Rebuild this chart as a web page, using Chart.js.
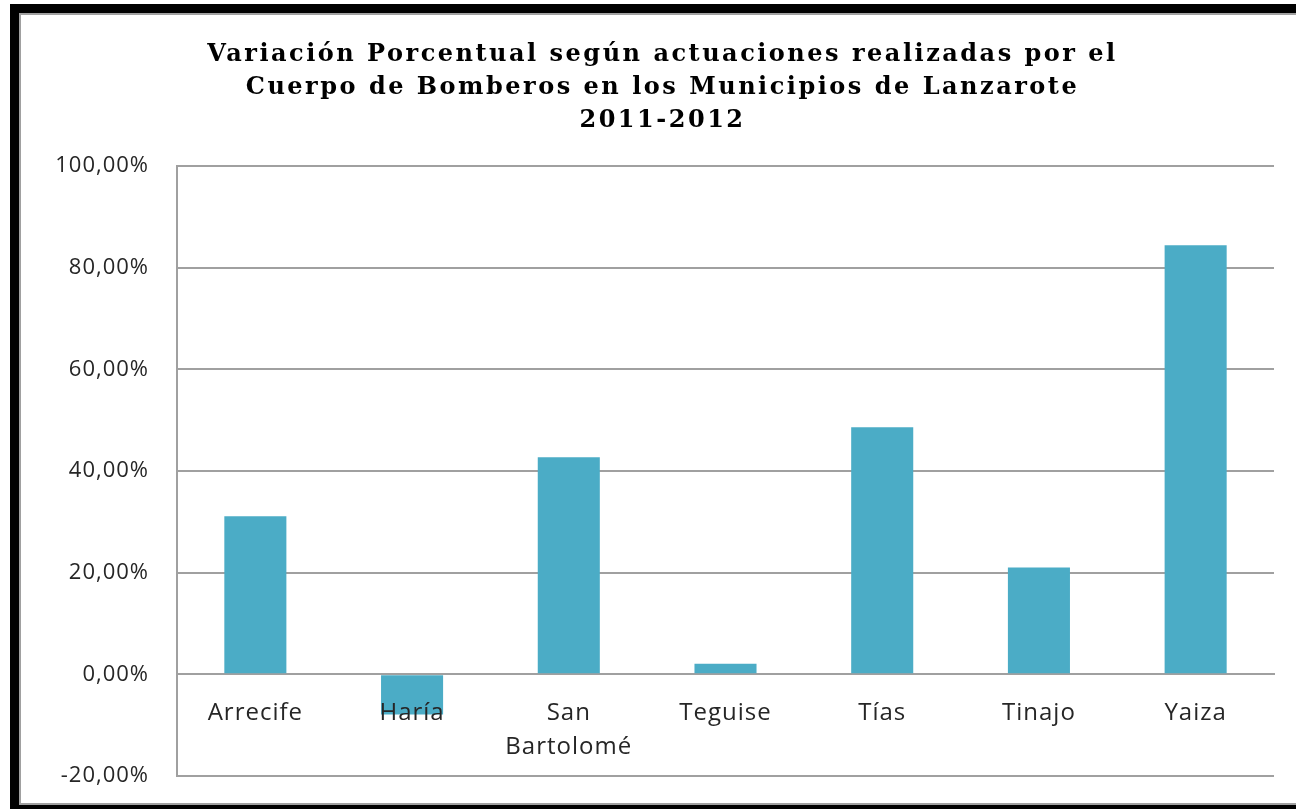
<!DOCTYPE html>
<html>
<head>
<meta charset="utf-8">
<script src="https://cdn.jsdelivr.net/npm/chart.js@4/dist/chart.umd.min.js"></script>
<style>
    html, body { margin: 0; padding: 0; background: #fff; }
    #wrap { position: relative; width: 1296px; height: 809px; overflow: hidden; }
    #frame {
        position: absolute; left: 10px; top: 4px; width: 1310px; height: 810px;
        box-sizing: border-box;
        border-left: 9px solid #000; border-top: 9px solid #000; border-bottom: 9px solid #000;
        box-shadow: inset 0 0 0 2px #a0a0a0;
        pointer-events: none;
    }
</style>
</head>
<body>
<div id="wrap">
    <canvas id="variacionChart" width="1296" height="809"></canvas>
    <div id="frame"></div>
</div>
<script>
const municipios = ['Arrecife', 'Haría', ['San', 'Bartolomé'], 'Teguise', 'Tías', 'Tinajo', 'Yaiza'];
const variacion = [31.1, -7.9, 42.7, 2.1, 48.6, 21.0, 84.4];
const tituloLineas = [
    'Variación Porcentual según actuaciones realizadas por el',
    'Cuerpo de Bomberos en los Municipios de Lanzarote',
    '2011-2012'
];
const ejeMin = -20;
const ejeMax = 100;
const ejePaso = 20;

// the original text looks a bit stretched: wide spacing for the title,
// a little for the tick labels (these are drawn after the bars, ticks.z = 1)
const espaciado = {
    id: 'espaciado',
    beforeDraw: function (chart) {
        chart.ctx.letterSpacing = '2.5px';
    },
    afterDatasetsDraw: function (chart) {
        chart.ctx.letterSpacing = '1px';
    },
    afterDraw: function (chart) {
        chart.ctx.letterSpacing = '0px';
    }
};

const ctx = document.getElementById('variacionChart').getContext('2d');
const variacionChart = new Chart(ctx, {
    type: 'bar',
    data: {
        labels: municipios,
        datasets: [{
            label: 'Variación',
            data: variacion,
            backgroundColor: '#4bacc6',
            borderWidth: 0,
            categoryPercentage: 1,
            barPercentage: 0.396
        }]
    },
    options: {
        responsive: false,
        animation: false,
        layout: {
            padding: { left: 51, right: 22, top: 0, bottom: 33 }
        },
        plugins: {
            legend: { display: false },
            tooltip: { enabled: false },
            title: {
                display: true,
                text: tituloLineas,
                color: '#000',
                font: { family: 'DejaVu Serif', size: 24, weight: 'bold', lineHeight: 1.375 },
                padding: { top: 38, bottom: 29 }
            }
        },
        scales: {
            x: {
                position: { y: 0 },
                grid: { display: false, drawTicks: false },
                border: { display: true, color: '#a0a0a0', width: 2 },
                ticks: {
                    z: 1,
                    color: '#262626',
                    padding: 22,
                    font: { family: 'Open Sans', size: 24, lineHeight: 1.4 },
                    maxRotation: 0,
                    autoSkip: false
                }
            },
            y: {
                min: ejeMin,
                max: ejeMax,
                afterFit: function (scale) {
                    scale.width = 126;
                },
                grid: { color: '#a0a0a0', lineWidth: 2, drawTicks: true, tickLength: 28, tickColor: 'rgba(0,0,0,0)' },
                border: { display: true, color: '#a0a0a0', width: 2 },
                ticks: {
                    z: 1,
                    stepSize: ejePaso,
                    color: '#262626',
                    padding: 0,
                    font: { family: 'Open Sans', size: 22 },
                    callback: function (value) {
                        return value.toFixed(2).replace('.', ',') + '%';
                    }
                }
            }
        }
    },
    plugins: [espaciado]
});
</script>
</body>
</html>
